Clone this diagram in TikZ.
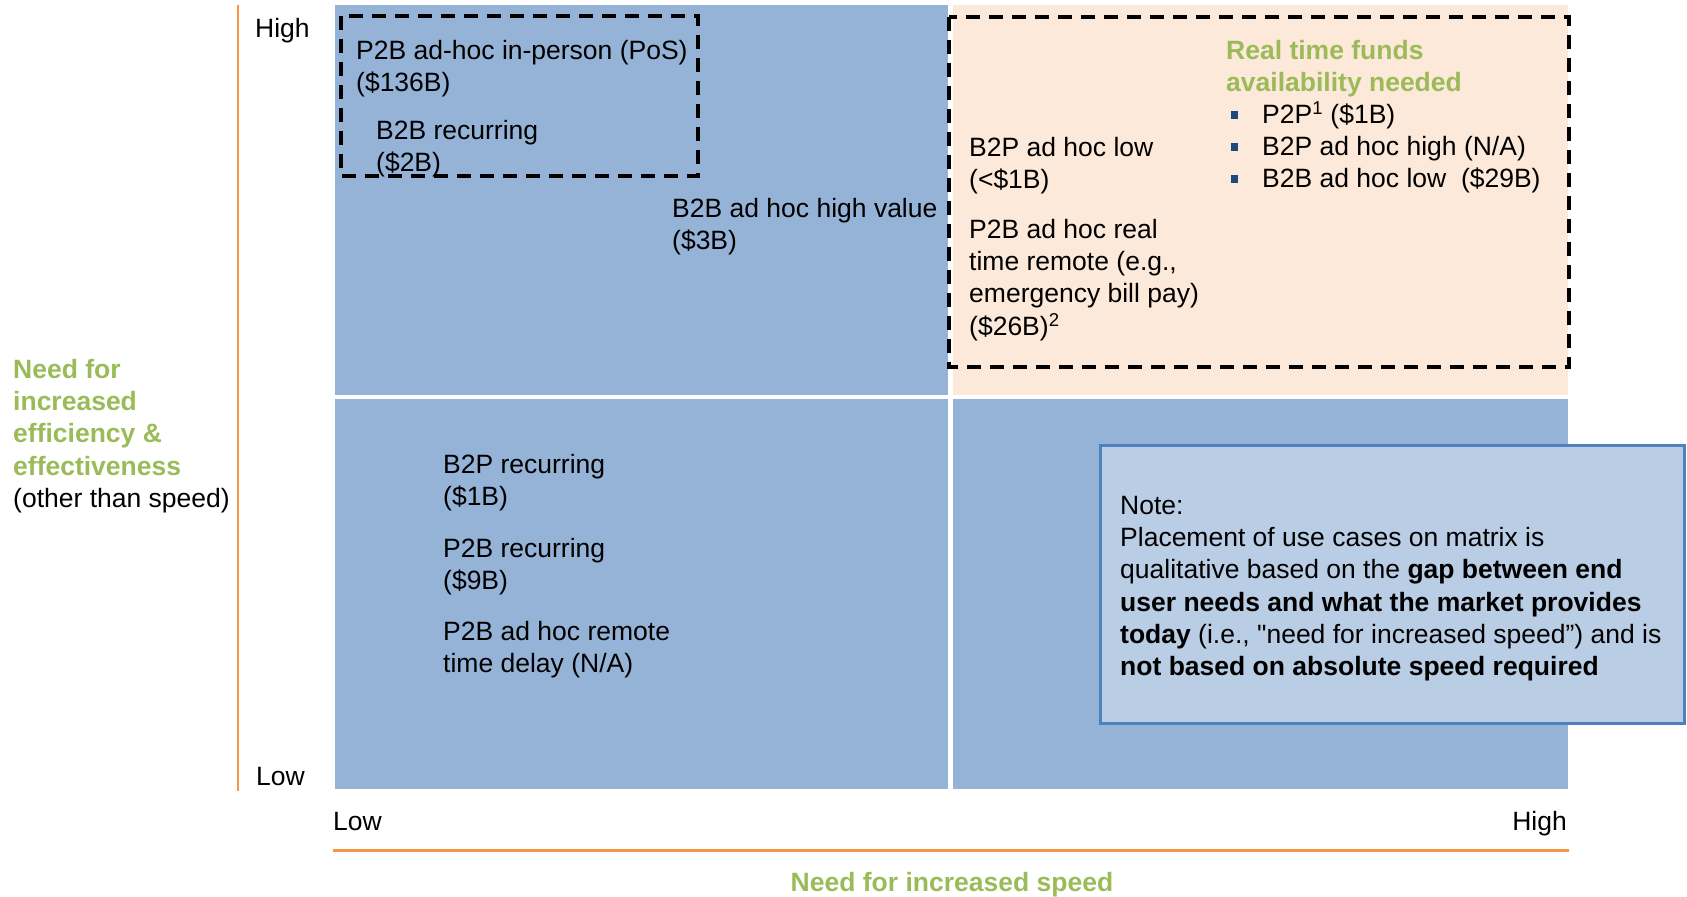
\documentclass[tikz,border=0pt]{standalone}
\usepackage{fontspec}
\setmainfont{Liberation Sans}[Ligatures=TeXOff]
\definecolor{quadblue}{HTML}{95B3D7}
\definecolor{quadpeach}{HTML}{FDE9D9}
\definecolor{notefill}{HTML}{B9CDE5}
\definecolor{noteedge}{HTML}{4F81BD}
\definecolor{agreen}{HTML}{9BBB59}
\definecolor{aorange}{HTML}{F79646}
\definecolor{bulletnavy}{HTML}{1F497D}
\newcommand{\mlines}[1]{\begin{tabular}[t]{@{}l@{}}#1\end{tabular}}
\newcommand{\gb}[1]{\textcolor{agreen}{\textbf{#1}}}
\newcommand{\sqbul}{\textcolor{bulletnavy}{\rule[5pt]{7pt}{8pt}}}
\tikzset{
  quad/.style={fill=quadblue, draw=none},
  peachquad/.style={fill=quadpeach, draw=none},
  dashbox/.style={draw=black, line width=3.5pt, dash pattern=on 14pt off 9pt},
  axisline/.style={draw=aorange},
  txt/.style={anchor=base west, inner sep=0pt, text=black, font=\fontsize{26.5}{32.2}\selectfont},
  notebox/.style={fill=notefill, draw=noteedge, line width=3pt}
}
\begin{document}
\begin{tikzpicture}[x=1pt, y=-1pt]
\useasboundingbox (0,0) rectangle (1687,897);
% quadrants
\fill[quad] (335,5) rectangle (948,395);
\fill[peachquad] (953,5) rectangle (1568,395);
\fill[quad] (335,399) rectangle (948,789);
\fill[quad] (953,399) rectangle (1568,789);
% axes
\draw[axisline, line width=2pt] (238,5) -- (238,791);
\draw[axisline, line width=3pt] (333,850) -- (1569,850);
% dashed groups
\draw[dashbox] (341,16) rectangle (698,176);
\draw[dashbox] (949,17) rectangle (1569,367);
% axis labels
\node[txt] (yhigh) at (255,37) {High};
\node[txt] (ylow) at (256,785) {Low};
\node[txt] (xlow) at (333,830.5) {Low};
\node[txt, anchor=base east] (xhigh) at (1567,830.5) {High};
\node[txt, anchor=base] (xtitle) at (952,891.5) {\gb{Need for increased speed}};
\node[txt] (ytitle) at (13,378.5) {\mlines{\gb{Need for}\\\gb{increased}\\\gb{efficiency \&}\\\gb{effectiveness}\\(other than speed)}};
% top-left quadrant
\node[txt] (p2bpos) at (356,59.5) {\mlines{P2B ad-hoc in-person (PoS)\\(\$136B)}};
\node[txt] (b2brec) at (376,139.5) {\mlines{B2B recurring\\(\$2B)}};
\node[txt] (b2bhigh) at (672,217.5) {\mlines{B2B ad hoc high value\\(\$3B)}};
% top-right quadrant
\node[txt] (b2plow) at (969,156.5) {\mlines{B2P ad hoc low\\(<\$1B)}};
\node[txt] (p2breal) at (969,238.5) {\mlines{P2B ad hoc real\\time remote (e.g.,\\emergency bill pay)\\(\$26B)\textsuperscript{2}}};
\node[txt] (rtitle) at (1226,59.5) {\mlines{\gb{Real time funds}\\\gb{availability needed}}};
\node[txt] (rlist) at (1231,123.5) {\begin{tabular}[t]{@{}l@{\hspace{24pt}}l@{}}
\sqbul & P2P\textsuperscript{1} (\$1B)\\
\sqbul & B2P ad hoc high (N/A)\\
\sqbul & B2B ad hoc low\hspace{0.556em}(\$29B)
\end{tabular}};
% bottom-left quadrant
\node[txt] (b2prec) at (443,473) {\mlines{B2P recurring\\(\$1B)}};
\node[txt] (p2brec) at (443,557.5) {\mlines{P2B recurring\\(\$9B)}};
\node[txt] (p2bdelay) at (443,640.5) {\mlines{P2B ad hoc remote\\time delay (N/A)}};
% note
\filldraw[notebox] (1100,445) rectangle (1684,723);
\node[txt] (note) at (1120,514.5) {\mlines{Note:\\
Placement of use cases on matrix is\\
qualitative based on the \textbf{gap between end}\\
\textbf{user needs and what the market provides}\\
\textbf{today} (i.e., "need for increased speed”) and is\\
\textbf{not based on absolute speed required}}};
\end{tikzpicture}
\end{document}
